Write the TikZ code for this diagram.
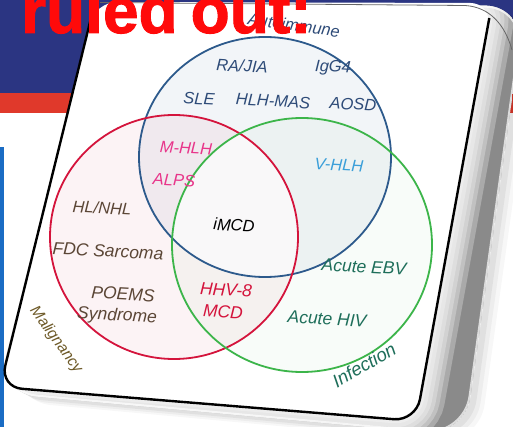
\documentclass[tikz,border=0pt]{standalone}
\usepackage{fontspec}
\setmainfont{Liberation Sans}
\newfontfamily\titlefont[BoldFeatures={FakeBold=1.5}]{Liberation Sans}
\definecolor{slideblue}{HTML}{2B3582}
\definecolor{slidered}{HTML}{E0392B}
\definecolor{barblue}{HTML}{1A6CC4}
\definecolor{titlered}{HTML}{FF0A0A}
\definecolor{rimgray}{HTML}{8A8A8A}
\definecolor{autoc}{HTML}{2D5A8C}
\definecolor{malc}{HTML}{D4143C}
\definecolor{infc}{HTML}{3CB54A}
\definecolor{autotext}{HTML}{2E4B78}
\definecolor{pinktext}{HTML}{E8358A}
\definecolor{vtext}{HTML}{3B9FD9}
\definecolor{maltext}{HTML}{5B4636}
\definecolor{maltitle}{HTML}{6E5A28}
\definecolor{inftext}{HTML}{1E6E5A}
\tikzset{
  lab/.style={font=\itshape\fontsize{16.5}{17}\selectfont, rotate=-3, inner sep=0pt},
  labbig/.style={lab, font=\itshape\fontsize{17.5}{18}\selectfont},
  venn/.style={line width=1.8pt},
}
\def\outerpath{(95,2) -- (525,6) -- (465,436) -- (-3,393) -- cycle}
\def\facepath{(95,2) -- (492,3) -- (416,421) -- (0,387) -- cycle}
\def\autoshape{(265,157) ellipse [x radius=126, y radius=120]}
\def\malshape{(174,237) ellipse [x radius=124, y radius=122]}
\def\infshape{(302,245) ellipse [x radius=130, y radius=127]}
\begin{document}
\begin{tikzpicture}[x=1pt,y=-1pt]
\clip (0,0) rectangle (513,427);
% slide background
\fill[white] (0,0) rectangle (513,427);
\fill[slideblue] (0,0) rectangle (513,93);
\fill[slidered] (0,93) rectangle (513,113);
\fill[barblue] (0,147) rectangle (4,427);
% soft shadow of the card
\foreach \s/\o in {14/0.03,10/0.04,6/0.05}{
  \fill[black, opacity=\o, rounded corners=40, shift={(\s,\s*0.6)}] \outerpath;
}
% card rim
\begin{scope}
  \clip[rounded corners=40] \outerpath;
  \fill[rimgray, rounded corners=40] \outerpath;
  \foreach \w in {50,40,32,24,16,8}{
    \draw[white, line width=\w, opacity=0.28, rounded corners=22] \facepath;
  }
  \draw[white, line width=4, opacity=0.7, rounded corners=40] \outerpath;
\end{scope}
% card face
\fill[white, rounded corners=22] \facepath;
\draw[black!60, line width=0.8] (100,2.5) -- (465,5.5) .. controls (490,7) and (505,25) .. (512,50);
\draw[black, line width=2.4, rounded corners=22] (92.5,12) -- (0,387) -- (416,421) -- (489.3,18);
% Venn fills
\fill[autoc, opacity=0.06] \autoshape;
\fill[malc, opacity=0.05] \malshape;
\fill[infc, opacity=0.03] \infshape;
\begin{scope}
  \clip \autoshape; \clip \malshape;
  \fill[white, opacity=0.75] \infshape;
\end{scope}
% Venn outlines
\draw[venn, autoc] \autoshape;
\draw[venn, malc] \malshape;
\draw[venn, infc] \infshape;
% labels
\node[lab, autotext, rotate=-5] (autoimmune) at (294,25) {Autoimmune};
\node[lab, autotext] (rajia) at (242,66) {RA/JIA};
\node[lab, autotext] (igg4) at (333,68) {IgG4};
\node[lab, autotext] (sle) at (199,99) {SLE};
\node[lab, autotext] (hlhmas) at (273,101) {HLH-MAS};
\node[lab, autotext] (aosd) at (353,104) {AOSD};
\node[lab, pinktext] (mhlh) at (186,148) {M-HLH};
\node[lab, pinktext] (alps) at (174,180) {ALPS};
\node[lab, vtext] (vhlh) at (339,165) {V-HLH};
\node[lab, maltext] (hlnhl) at (102,208) {HL/NHL};
\node[labbig, maltext] (fdc) at (108,251) {FDC Sarcoma};
\node[labbig, maltext] (poems) at (123,294) {POEMS};
\node[labbig, maltext] (syndrome) at (117,316) {Syndrome};
\node[lab, black] (imcd) at (234,225) {iMCD};
\node[labbig, malc] (hhv) at (226,290) {HHV-8};
\node[labbig, malc] (mcd) at (223,312) {MCD};
\node[labbig, inftext] (ebv) at (364,267) {Acute EBV};
\node[labbig, inftext] (hiv) at (327,319) {Acute HIV};
\node[lab, maltitle, rotate=-51, font=\itshape\fontsize{15.5}{16}\selectfont] (malignancy) at (56,340) {Malignancy};
\node[lab, inftext, rotate=33, font=\itshape\fontsize{18.5}{19}\selectfont] (infection) at (364,365) {Infection};
% title
\node[anchor=base west, inner sep=0pt, text=titlered, font=\titlefont\bfseries\fontsize{64}{64}\selectfont] (title) at (21,33) {ruled\hspace{13pt}out:};
\end{tikzpicture}
\end{document}
